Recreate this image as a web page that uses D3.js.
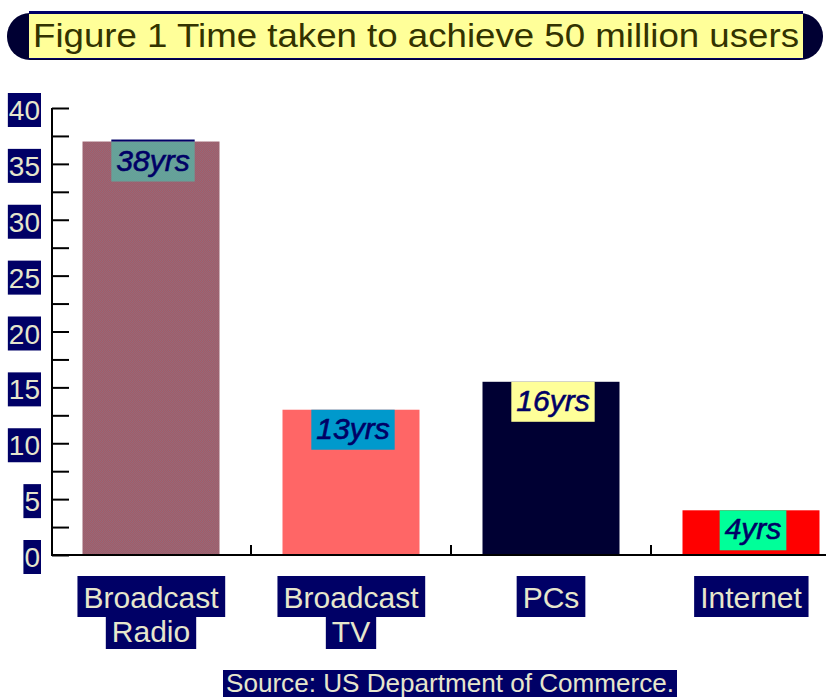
<!DOCTYPE html>
<html>
<head>
<meta charset="utf-8">
<script src="https://cdn.jsdelivr.net/npm/d3@7"></script>
<style>
  body { margin: 0; background: #fff; }
  svg { display: block; font-family: "Liberation Sans", Arial, sans-serif; }
</style>
</head>
<body>
<svg width="826" height="697"></svg>
<script>
(function () {
  "use strict";
  const categories = [["Broadcast", "Radio"], ["Broadcast", "TV"], ["PCs"], ["Internet"]];
  const values = [37, 13, 15.5, 4];
  const valueLabels = ["38yrs", "13yrs", "16yrs", "4yrs"];
  const yTickLabels = [0, 5, 10, 15, 20, 25, 30, 35, 40];
  const yMinorTicks = d3.range(0, 40.1, 2.5);
  const barFills = ["url(#hatchRadio)", "#ff6666", "#000033", "#ff0000"];
  const labelFills = ["url(#hatchBlue)", "#0099cc", "#ffff99", "#00ff99"];

  const svg = d3.select("svg");
  const navy = "#000066";

  // dithered fills
  const defs = svg.append("defs");
  const checker = (id, base, dot) => {
    const p = defs.append("pattern").attr("id", id)
      .attr("width", 2).attr("height", 2).attr("patternUnits", "userSpaceOnUse");
    p.append("rect").attr("width", 2).attr("height", 2).attr("fill", base);
    p.append("rect").attr("x", 0).attr("y", 0).attr("width", 1).attr("height", 1).attr("fill", dot);
    p.append("rect").attr("x", 1).attr("y", 1).attr("width", 1).attr("height", 1).attr("fill", dot);
  };
  checker("hatchRadio", "#a65a66", "#926a7a");
  checker("hatchBlue", "#6699ee", "#66aa44");

  // title
  const tg = svg.append("g");
  tg.append("rect").attr("x", 7).attr("y", 13).attr("width", 816).attr("height", 47)
    .attr("rx", 23).attr("fill", "#000033");
  tg.append("rect").attr("x", 29).attr("y", 11).attr("width", 774).attr("height", 48)
    .attr("fill", "#000066");
  tg.append("rect").attr("x", 29).attr("y", 14).attr("width", 774).attr("height", 44)
    .attr("fill", "#ffff99");
  tg.append("text").attr("x", 33).attr("y", 47)
    .attr("font-size", 33).attr("fill", "#333300")
    .attr("textLength", 766).attr("lengthAdjust", "spacingAndGlyphs")
    .text("Figure 1 Time taken to achieve 50 million users");

  const x = d3.scaleBand()
    .domain(d3.range(categories.length))
    .range([51, 851])
    .paddingInner(0.315)
    .paddingOuter(0.1575);
  const y = d3.scaleLinear().domain([0, 40]).range([555, 108]);

  // bars
  svg.append("g").selectAll("rect")
    .data(values)
    .join("rect")
    .attr("x", (d, i) => x(i))
    .attr("y", (d) => y(d))
    .attr("width", x.bandwidth())
    .attr("height", (d) => y(0) - y(d))
    .attr("fill", (d, i) => barFills[i]);

  // y axis
  const yAxisG = svg.append("g")
    .attr("transform", "translate(52,0)")
    .call(d3.axisRight(y).tickValues(yMinorTicks).tickSize(17).tickFormat(""));
  yAxisG.select(".domain").remove();
  yAxisG.selectAll(".tick line").attr("stroke", "#000").attr("stroke-width", 2);
  svg.append("line").attr("x1", 52).attr("x2", 52)
    .attr("y1", y(40)).attr("y2", y(0) + 1)
    .attr("stroke", "#000").attr("stroke-width", 2);

  // baseline and category separators
  svg.append("line").attr("x1", 51).attr("x2", 826)
    .attr("y1", y(0)).attr("y2", y(0))
    .attr("stroke", "#000").attr("stroke-width", 2);
  const step = x.step();
  svg.append("g").selectAll("line")
    .data(d3.range(1, categories.length))
    .join("line")
    .attr("x1", (i) => x(i) - (step - x.bandwidth()) / 2)
    .attr("x2", (i) => x(i) - (step - x.bandwidth()) / 2)
    .attr("y1", y(0) - 10).attr("y2", y(0))
    .attr("stroke", "#000").attr("stroke-width", 2);

  // y tick labels in navy boxes
  const yl = svg.append("g").selectAll("g")
    .data(yTickLabels)
    .join("g")
    .attr("transform", (d) => `translate(41,${y(d) + 2})`);
  yl.append("text")
    .attr("text-anchor", "end").attr("x", -1).attr("y", 10)
    .attr("font-size", 28).attr("fill", "#e6e6cc")
    .text((d) => d);
  yl.each(function () {
    const g = d3.select(this);
    const bb = g.select("text").node().getBBox();
    g.insert("rect", "text")
      .attr("x", bb.x - 1).attr("y", -17)
      .attr("width", bb.width + 2).attr("height", 34)
      .attr("fill", navy);
  });

  // value labels on bars
  const vl = svg.append("g").selectAll("g")
    .data(values)
    .join("g")
    .attr("transform", (d, i) => `translate(${x(i) + x.bandwidth() / 2 + 2},${y(d)})`);
  vl.append("text")
    .attr("text-anchor", "middle").attr("y", 29)
    .attr("font-size", 30).attr("font-style", "italic").attr("fill", navy)
    .attr("stroke", navy).attr("stroke-width", 0.6)
    .text((d, i) => valueLabels[i]);
  vl.each(function (d, i) {
    const g = d3.select(this);
    const bb = g.select("text").node().getBBox();
    g.insert("rect", "text")
      .attr("x", bb.x - 5).attr("y", 0)
      .attr("width", bb.width + 10).attr("height", 40)
      .attr("fill", labelFills[i]);
    if (i === 0) {
      g.insert("rect", "text")
        .attr("x", bb.x - 5).attr("y", -2)
        .attr("width", bb.width + 10).attr("height", 2)
        .attr("fill", navy);
    }
  });

  // category labels
  const cl = svg.append("g").selectAll("g")
    .data(categories)
    .join("g")
    .attr("transform", (d, i) => `translate(${x(i) + x.bandwidth() / 2},0)`);
  cl.each(function (lines) {
    const g = d3.select(this);
    let top = 576;
    lines.forEach((line, j) => {
      const base = 608 + 34 * j;
      const t = g.append("text")
        .attr("text-anchor", "middle").attr("y", base)
        .attr("font-size", 30).attr("fill", "#e6e6cc")
        .text(line);
      const bb = t.node().getBBox();
      const bottom = base + (j === 0 ? 9 : 7);
      g.insert("rect", "text")
        .attr("x", bb.x - 6).attr("y", top)
        .attr("width", bb.width + 12).attr("height", bottom - top)
        .attr("fill", navy);
      top = bottom;
    });
  });

  // source note (sits on the bottom edge, as in the original)
  const sg = svg.append("g");
  sg.append("rect").attr("x", 223).attr("y", 670).attr("width", 454).attr("height", 30)
    .attr("fill", navy);
  sg.append("text").attr("x", 226).attr("y", 692)
    .attr("font-size", 25).attr("fill", "#e6e6cc")
    .attr("textLength", 448).attr("lengthAdjust", "spacingAndGlyphs")
    .text("Source: US Department of Commerce.");
})();
</script>
</body>
</html>
